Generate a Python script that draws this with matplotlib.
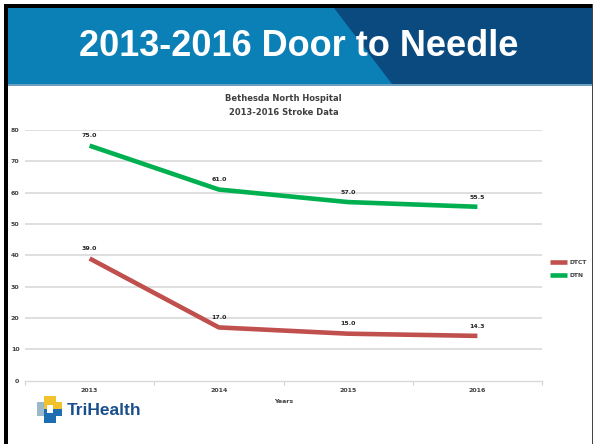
import matplotlib
matplotlib.use("Agg")
import matplotlib.pyplot as plt
from matplotlib.patches import Polygon, Rectangle

years = ["2013", "2014", "2015", "2016"]
dtct = [39.0, 17.0, 15.0, 14.3]
dtn = [75.0, 61.0, 57.0, 55.5]
series_names = ["DTCT", "DTN"]
yticks = [0, 10, 20, 30, 40, 50, 60, 70, 80]
slide_title = "2013-2016 Door to Needle"
chart_title = "Bethesda North Hospital\n2013-2016 Stroke Data"
xlabel = "Years"

W, H = 594, 444
fig = plt.figure(figsize=(W / 100, H / 100), dpi=100)
fig.patch.set_facecolor("white")

# background / slide decoration axes in pixel coords
bg = fig.add_axes([0, 0, 1, 1], zorder=-1)
bg.set_xlim(0, W)
bg.set_ylim(H, 0)
bg.axis("off")

# banner
bg.add_patch(Rectangle((7, 8), 585, 76, color="#0a80b6", lw=0))
bg.add_patch(Polygon([(334, 8), (592, 8), (592, 84), (392, 84)], closed=True, color="#0b4a7e", lw=0))
bg.add_patch(Rectangle((7, 84), 585, 2.5, color="#6f9fc0", lw=0))
# slide borders
bg.add_patch(Rectangle((4, 4), 588, 4, color="black", lw=0))
bg.add_patch(Rectangle((4, 4), 3.5, H, color="black", lw=0))
bg.add_patch(Rectangle((591.5, 4), 1.5, H, color="#444444", lw=0))

bg.text(299, 46, slide_title, color="white", fontsize=26, fontweight="bold",
        family="Liberation Sans", ha="center", va="center")

# logo
bg.add_patch(Polygon([(44, 396), (56, 396), (56, 402), (62, 402), (62, 409), (44, 409)],
                     closed=True, color="#f2c12e", lw=0))
bg.add_patch(Polygon([(37, 402), (44, 402), (44, 416), (37, 416)], closed=True, color="#9bb8cc", lw=0))
bg.add_patch(Polygon([(44, 409), (62, 409), (62, 416), (56, 416), (56, 423), (44, 423)],
                     closed=True, color="#1d6db0", lw=0))
bg.add_patch(Rectangle((47, 405), 6, 8, color="white", lw=0))
bg.text(67, 410, "TriHealth", color="#1a4f8c", fontsize=12.5, fontweight="bold",
        family="Liberation Sans", ha="left", va="center")

# chart axes
ax = fig.add_axes([25 / W, (H - 380.7) / H, (542 - 25) / W, (380.7 - 130) / H])
ax.set_facecolor("none")
x = list(range(len(years)))
l1, = ax.plot(x, dtct, color="#c0504d", lw=3.3, solid_capstyle="butt", label=series_names[0], zorder=3)
l2, = ax.plot(x, dtn, color="#00b050", lw=3.3, solid_capstyle="butt", label=series_names[1], zorder=3)

for xs, vals in ((x, dtct), (x, dtn)):
    for xi, v in zip(xs, vals):
        ax.annotate(f"{v:.1f}", (xi, v), xytext=(0, 7), textcoords="offset points",
                    ha="center", va="center", fontsize=4.5, fontweight="bold", color="#262626")

ax.set_xlim(-0.5, 3.5)
ax.set_ylim(0, 80)
ax.set_yticks(yticks)
ax.set_yticklabels([str(t) for t in yticks], fontsize=4.5, fontweight="bold", color="#404040")
ax.set_xticks(x)
ax.set_xticklabels(years, fontsize=4.5, fontweight="bold", color="#404040")
ax.set_xticks([-0.5, 0.5, 1.5, 2.5, 3.5], minor=True)
ax.tick_params(axis="y", length=0, pad=4)
ax.tick_params(axis="x", which="major", length=0, pad=5.5)
ax.tick_params(axis="x", which="minor", length=3, color="#d0d0d0", width=0.8)
ax.grid(axis="y", color="#d9d9d9", lw=1.2)
for t in ax.get_ygridlines()[:1]:
    t.set_visible(False)
for s in ["top", "right", "left"]:
    ax.spines[s].set_visible(False)
ax.spines["bottom"].set_color("#d9d9d9")
ax.spines["bottom"].set_linewidth(1.0)
ax.set_axisbelow(True)
ax.set_xlabel(xlabel, fontsize=4.5, fontweight="bold", color="#404040", labelpad=4)
ax.set_title(chart_title, fontsize=6, fontweight="bold", color="#404040", pad=11, linespacing=1.7)

leg = ax.legend(handles=[l1, l2], loc="center left", bbox_to_anchor=(550 / W, 1 - 269 / H),
                bbox_transform=fig.transFigure, frameon=False, handlelength=2.8, borderpad=0,
                borderaxespad=0, prop={"size": 4.3, "weight": "bold"}, labelspacing=1.2,
                handletextpad=0.5)
for t in leg.get_texts():
    t.set_color("#404040")

fig.savefig("out.png", dpi=100)
